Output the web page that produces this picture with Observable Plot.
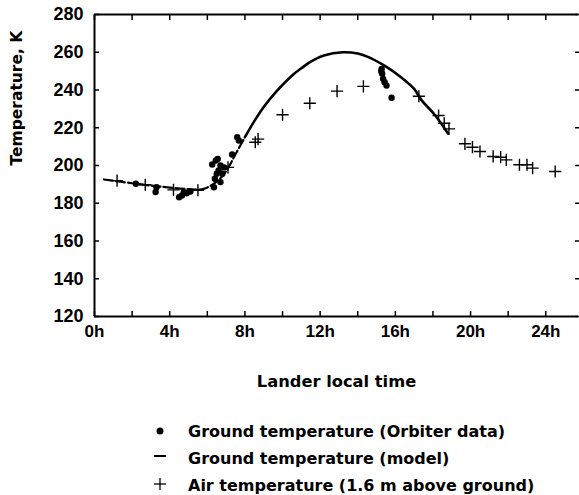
<!DOCTYPE html>
<html>
<head>
<meta charset="utf-8">
<script src="https://cdn.jsdelivr.net/npm/d3@7"></script>
<script src="https://cdn.jsdelivr.net/npm/@observablehq/plot@0.6"></script>
<style>
  html, body { margin: 0; padding: 0; background: #fff; }
  body { width: 579px; height: 495px; position: relative; overflow: hidden; font-family: "Liberation Sans", Arial, sans-serif; }
  #legend { position: absolute; left: 146px; top: 418px; font-family: "DejaVu Sans", sans-serif; font-weight: bold; font-size: 16px; color: #000; }
  #legend .row { height: 27px; line-height: 27px; display: flex; align-items: center; white-space: nowrap; }
  #legend .sym { width: 28px; display: inline-block; text-align: center; }
  #legend .lab { margin-left: 14px; }
</style>
</head>
<body>
<div id="chart"></div>
<div id="legend"></div>
<script>
// ---- data ----
const xTicks = [0, 2, 4, 6, 8, 10, 12, 14, 16, 18, 20, 22, 24];
const yTicks = [120, 140, 160, 180, 200, 220, 240, 260, 280];

// Air temperature (1.6 m above ground)
const airHour = [1.2, 2.7, 4.2, 5.5, 7.1, 8.55, 8.7, 10.0, 11.45, 12.9, 14.3, 17.25, 18.3, 18.6, 18.85, 19.7, 20.1, 20.5, 21.2, 21.6, 21.9, 22.6, 23.0, 23.3, 24.5];
const airTemp = [192, 189.8, 187.1, 186.9, 199, 212.3, 214, 226.9, 233, 239.4, 241.9, 236.7, 226.5, 222.4, 219.4, 211.5, 209.7, 207.4, 204.8, 204.4, 203, 200.4, 200.4, 198.6, 196.8];

// Ground temperature (Orbiter data)
const orbHour = [2.2, 3.3, 3.25, 4.5, 4.65, 4.75, 4.9, 5.1, 6.26, 6.45, 6.35, 6.4, 6.5, 6.6, 6.7, 6.7, 6.8, 6.9, 6.55, 7.32, 7.59, 7.68, 15.27, 15.3, 15.35, 15.43, 15.53, 15.25, 15.8];
const orbTemp = [190.3, 188.5, 186, 183.2, 184.1, 185.9, 185.3, 186.2, 200.5, 202.6, 188.5, 193, 195.6, 197.4, 200, 191.2, 195.6, 199, 203.5, 205.8, 215, 213.2, 251.2, 248.6, 245.9, 244.1, 242.4, 250, 235.9];

// Ground temperature (model)
const modelHour = [0.5, 2, 3.5, 5, 5.8, 6.5, 7.0, 7.5, 8.0, 8.5, 9.0, 9.7, 10.6, 11.0, 11.5, 12.2, 13.2, 14.0, 14.6, 15.4, 16.3, 17.0, 17.4, 18.05, 18.8];
const modelTemp = [192.6, 190.6, 188.8, 187.5, 187.6, 191.5, 197, 206, 215, 223.5, 231, 239.5, 248.5, 251.5, 255, 258.3, 260, 259.3, 257.3, 253, 246.8, 240.6, 234.5, 227.4, 217];

const xLabel = "Lander local time";
const yLabel = "Temperature, K";
const legendLabels = ["Ground temperature (Orbiter data)", "Ground temperature (model)", "Air temperature (1.6 m above ground)"];

// ---- build tables ----
const air = airHour.map((h, i) => ({h, t: airTemp[i]}));
const orb = orbHour.map((h, i) => ({h, t: orbTemp[i]}));
const model = modelHour.map((h, i) => ({h, t: modelTemp[i]}));
const night = model.filter(d => d.h <= 8);
const day = model.filter(d => d.h >= 8);

const W = 579, H = 405;
const chart = Plot.plot({
  width: W,
  height: H,
  marginLeft: 94,
  marginRight: 1,
  marginTop: 14,
  marginBottom: H - 316,
  style: {fontFamily: "'Liberation Sans', Arial, sans-serif", fontWeight: "bold", color: "#000", background: "#fff"},
  x: {domain: [0, 25.74], label: null},
  y: {domain: [120, 280], label: null},
  marks: [
    Plot.axisX({ticks: xTicks, tickSize: -5, tickPadding: 13, strokeWidth: 1.5, fontSize: 17, tickFormat: d => d % 4 === 0 ? d + "h" : ""}),
    Plot.axisX({anchor: "top", ticks: xTicks, tickSize: -5, strokeWidth: 1.5, tickFormat: () => ""}),
    Plot.axisY({ticks: yTicks, tickSize: -5, tickPadding: 16, strokeWidth: 1.5, fontSize: 18, tickFormat: d => String(d)}),
    Plot.axisY({anchor: "right", ticks: yTicks, tickSize: -4, strokeWidth: 1.5, tickFormat: () => ""}),
    Plot.ruleX([0], {strokeWidth: 2}),
    Plot.ruleY([120, 280], {strokeWidth: 2}),
    Plot.line(night, {x: "h", y: "t", curve: "catmull-rom", strokeWidth: 2.2, strokeDasharray: "9,3"}),
    Plot.line(day, {x: "h", y: "t", curve: "catmull-rom", strokeWidth: 2.6}),
    Plot.dot(orb, {x: "h", y: "t", r: 3.2, fill: "#000", stroke: "none"}),
    Plot.dot(air, {x: "h", y: "t", symbol: "plus", r: 4, stroke: "#000", strokeWidth: 1.4}),
    Plot.text([xLabel], {frameAnchor: "bottom", dy: 70, fontSize: 16.3, fontWeight: "bold", fontFamily: "'DejaVu Sans', sans-serif"}),
    Plot.text([yLabel], {frameAnchor: "left", dx: -77, rotate: -90, fontSize: 15.5, fontWeight: "bold", fontFamily: "'DejaVu Sans', sans-serif"})
  ]
});
document.getElementById("chart").appendChild(chart);

// ---- legend ----
const symbols = [
  '<svg width="12" height="12"><circle cx="6" cy="6" r="3.5" fill="#000"/></svg>',
  '<svg width="14" height="12"><line x1="1" y1="4" x2="13" y2="4" stroke="#000" stroke-width="2"/></svg>',
  '<svg width="14" height="14"><line x1="1" y1="7" x2="13" y2="7" stroke="#000" stroke-width="1.3"/><line x1="7" y1="1" x2="7" y2="13" stroke="#000" stroke-width="1.3"/></svg>'
];
const legend = document.getElementById("legend");
legendLabels.forEach((lab, i) => {
  const row = document.createElement("div");
  row.className = "row";
  row.innerHTML = '<span class="sym">' + symbols[i] + '</span><span class="lab">' + lab + '</span>';
  legend.appendChild(row);
});
</script>
</body>
</html>
